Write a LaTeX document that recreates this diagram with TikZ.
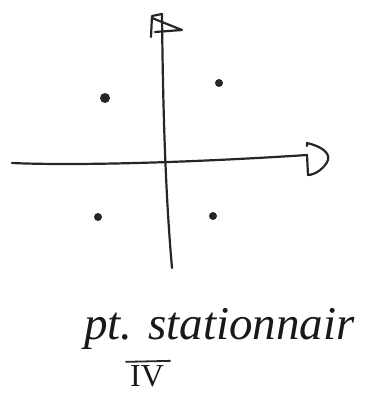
\documentclass[tikz,border=0pt]{standalone}
\usepackage{fontspec}
\setmainfont{Liberation Serif}
\begin{document}
\begin{tikzpicture}[x=1pt,y=-1pt,
  ink/.style={draw=black!85,line width=2.2pt,line cap=round,line join=round},
  pt/.style={circle,fill=black!85,inner sep=0pt}]
\useasboundingbox (0,0) rectangle (364,393);
\coordinate (vb) at (172,268);
\coordinate (vt) at (162,14);
\coordinate (hl) at (12,163);
\coordinate (hr) at (307,155);
\draw[ink] (vb) .. controls (166,200) and (163,120) .. (vt);
\draw[ink] (hl) .. controls (80,166) and (200,162) .. (hr);
% flag arrowhead top
\draw[ink] (vt) -- (152,16) -- (151,37) (152,18) -- (182,30) -- (155,32);
% D arrowhead right
\draw[ink] (307,146) -- (307,143) .. controls (320,146) and (330,152) .. (328,160) .. controls (325,168) and (315,175) .. (308,175) -- (307,155);
\node[pt,minimum size=10pt] (p1) at (105,98) {};
\node[pt,minimum size=8pt] (p2) at (219,83) {};
\node[pt,minimum size=8pt] (p3) at (98,217) {};
\node[pt,minimum size=8pt] (p4) at (213,216) {};
\node[anchor=base west,inner sep=0pt,font=\itshape\fontsize{47}{50}\selectfont,text=black!90] (t1) at (84,339) {pt. stationnair};
\node[anchor=base west,inner sep=0pt,font=\fontsize{32}{34}\selectfont,text=black!90] (t2) at (130,386) {IV};
\draw[ink,line width=1.8pt] ([xshift=-4pt,yshift=3pt]t2.north west) -- ([xshift=6pt,yshift=4pt]t2.north east);
\end{tikzpicture}
\end{document}
